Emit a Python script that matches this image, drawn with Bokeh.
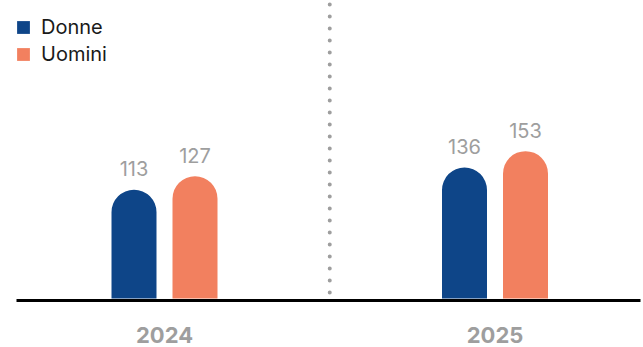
from bokeh.plotting import figure
from bokeh.models import ColumnDataSource, Range1d, Legend, LegendItem
from bokeh.core.properties import value
from bokeh.embed import file_html
from bokeh.resources import INLINE

# ---- data ----
years = ["2024", "2025"]
donne = [113, 136]
uomini = [127, 153]
series_names = ["Donne", "Uomini"]

# ---- layout constants (pixels) ----
W, H = 643, 347
X0, SX = 164.0, 330.5      # px of first group centre, px per group
Y0, SY = 298.0, 0.963      # px of baseline (from top), px per unit
BAR_W = 45.0
BAR_OFF = 30.5
RADIUS = 23
FONT = "Inter"
C_DONNE = "#0e4588"
C_UOMINI = "#f2805f"
GREY = "#9e9e9e"

def dx(px):
    return px / SX

def dy(px):
    return px / SY

x_start = -X0 / SX
x_end = (W - X0) / SX
y_start = -(H - Y0) / SY
y_end = Y0 / SY

p = figure(width=W, height=H, output_backend="svg", toolbar_location=None,
           x_range=Range1d(x_start, x_end), y_range=Range1d(y_start, y_end),
           min_border=0)
p.axis.visible = False
p.grid.visible = False
p.outline_line_color = None
p.background_fill_color = "white"
p.border_fill_color = "white"

idx = list(range(len(years)))
src = ColumnDataSource(dict(
    xd=[i - dx(BAR_OFF) for i in idx],
    xu=[i + dx(BAR_OFF) for i in idx],
    donne=donne, uomini=uomini,
    ld=[str(v) for v in donne], lu=[str(v) for v in uomini],
))

r_d = p.vbar(x="xd", top="donne", bottom=0, width=dx(BAR_W), source=src,
             fill_color=C_DONNE, line_color=None, border_radius=(RADIUS, RADIUS, 0, 0))
r_u = p.vbar(x="xu", top="uomini", bottom=0, width=dx(BAR_W), source=src,
             fill_color=C_UOMINI, line_color=None, border_radius=(RADIUS, RADIUS, 0, 0))

# value labels
for xcol, ycol, lcol in (("xd", "donne", "ld"), ("xu", "uomini", "lu")):
    p.text(x=xcol, y=ycol, text=lcol, source=src, text_align="center",
           text_baseline="alphabetic", y_offset=-21,
           text_font=value(FONT), text_font_size="20px", text_color=GREY)

# separator dotted line between groups
sep_x = (idx[0] + idx[1]) / 2
p.segment(x0=[sep_x], y0=[dy(Y0 - 4)], x1=[sep_x], y1=[dy(1)],
          line_color=GREY, line_width=4, line_dash="0 12", line_cap="round")

# baseline
p.segment(x0=[dx(16 - X0)], y0=[dy(-2)], x1=[dx(640 - X0)], y1=[dy(-2)],
          line_color="black", line_width=3)

# category labels
cat_src = ColumnDataSource(dict(x=idx, y=[0] * len(idx), t=years))
p.text(x="x", y="y", text="t", source=cat_src, text_align="center",
       text_baseline="alphabetic", y_offset=36,
       text_font=value(FONT), text_font_size="22px", text_font_style="bold",
       text_color=GREY)

legend = Legend(items=[LegendItem(label=series_names[0], renderers=[r_d]),
                       LegendItem(label=series_names[1], renderers=[r_u])],
                location="top_left", margin=0, padding=15, spacing=3,
                glyph_width=16, glyph_height=16, label_standoff=10,
                label_text_font=FONT, label_text_font_size="20px",
                label_text_color="#1a1a1a",
                background_fill_alpha=0, border_line_alpha=0)
p.add_layout(legend)

open("out.html", "w").write(file_html(p, INLINE))
